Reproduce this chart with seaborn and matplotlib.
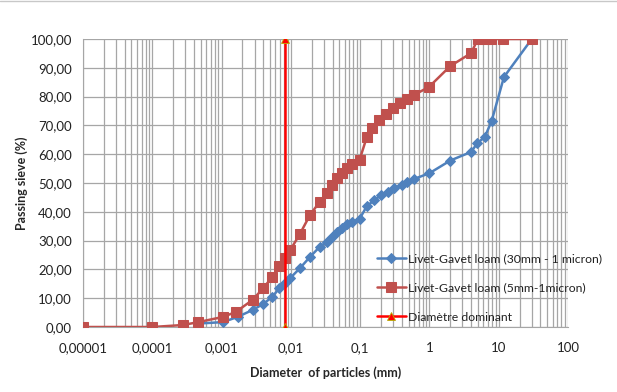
import numpy as np
import pandas as pd
import seaborn as sns
import matplotlib.pyplot as plt
from matplotlib.lines import Line2D
from matplotlib.ticker import FixedLocator, LogLocator, FuncFormatter

# series 1: Livet-Gavet loam (30mm - 1 micron)
d_coarse = [0.00046, 0.00105, 0.0017, 0.0028, 0.004, 0.0054, 0.0068, 0.0082, 0.0098,
            0.0135, 0.019, 0.026, 0.033, 0.039, 0.046, 0.054, 0.064, 0.077, 0.098,
            0.125, 0.16, 0.2, 0.25, 0.31, 0.4, 0.48, 0.6, 1.0, 2.0, 4.0, 4.9, 6.3,
            7.9, 11.9, 30]
p_coarse = [1.2, 1.7, 3.5, 5.9, 8.0, 10.5, 13.4, 15.2, 17.0,
            20.4, 24.4, 27.8, 29.6, 31.3, 33.0, 34.4, 35.8, 36.5, 37.5,
            42.0, 44.0, 45.8, 47.0, 48.3, 49.3, 50.3, 51.4, 53.4, 57.8, 60.8, 63.8, 66.0,
            71.5, 86.8, 100.0]

# series 2: Livet-Gavet loam (5mm-1micron)
d_fine = [0.00001, 0.0001, 0.00028, 0.00046, 0.00105, 0.0016, 0.0028, 0.004, 0.0054,
          0.0068, 0.0082, 0.0098, 0.0135, 0.019, 0.026, 0.033, 0.039, 0.046, 0.054,
          0.064, 0.077, 0.098, 0.125, 0.15, 0.19, 0.24, 0.30, 0.37, 0.47, 0.6,
          0.98, 2.0, 4.0, 5.0, 6.3, 7.8, 11.5, 30]
p_fine = [0.0, 0.0, 0.7, 1.7, 3.5, 5.2, 9.4, 13.5, 17.4,
          21.2, 24.0, 26.7, 32.3, 39.0, 43.4, 46.5, 49.3, 51.7, 53.5,
          55.2, 56.6, 58.0, 66.0, 69.0, 71.9, 74.0, 76.0, 77.8, 79.2, 80.6,
          83.3, 90.6, 95.1, 100.0, 100.0, 100.0, 100.0, 100.0]

# series 3: Diamètre dominant
d_dom = [0.0082, 0.0082]
p_dom = [0.0, 100.0]

labels = ["Livet-Gavet loam (30mm - 1 micron)", "Livet-Gavet loam (5mm-1micron)", "Diamètre dominant"]
x_ticks = [0.00001, 0.0001, 0.001, 0.01, 0.1, 1, 10, 100]
x_tick_labels = ["0,00001", "0,0001", "0,001", "0,01", "0,1", "1", "10", "100"]

sns.set_style("white")
plt.rcParams['font.family'] = ['Lato', 'DejaVu Sans']

fig = plt.figure(figsize=(6.17, 3.92), dpi=100)
ax = fig.add_axes([0.1345, 0.1658, 0.7861, 0.7347])

ax.set_xscale("log")
ax.xaxis.set_major_locator(FixedLocator(x_ticks))
ax.xaxis.set_minor_locator(LogLocator(base=10, subs=np.arange(2, 10), numticks=20))
ax.grid(True, which="both", axis="x", color="#a6a6a6", linewidth=0.9)
ax.grid(True, which="major", axis="y", color="#a6a6a6", linewidth=0.9)
ax.set_axisbelow(True)

df1 = pd.DataFrame({"d": d_coarse, "p": p_coarse})
df2 = pd.DataFrame({"d": d_fine, "p": p_fine})
df3 = pd.DataFrame({"d": d_dom, "p": p_dom})

sns.lineplot(data=df1, x="d", y="p", ax=ax, sort=False, estimator=None, color="#4f81bd",
             linewidth=1.8, marker="D", markersize=5, markeredgecolor="#4f81bd",
             label=labels[0], zorder=3)
sns.lineplot(data=df2, x="d", y="p", ax=ax, sort=False, estimator=None, color="#c0504d",
             linewidth=1.8, marker="s", markersize=7, markeredgecolor="#c0504d",
             label=labels[1], zorder=4)
sns.lineplot(data=df3, x="d", y="p", ax=ax, sort=False, estimator=None, color="#ff0000",
             linewidth=1.8, marker="^", markersize=6, markeredgecolor="#b8b000",
             markeredgewidth=0.6, label=labels[2], zorder=5)

ax.set_xlim(0.00001, 100)
ax.set_ylim(0, 100)
ax.set_yticks(np.arange(0, 101, 10))
ax.yaxis.set_major_formatter(FuncFormatter(lambda v, pos: f"{v:.2f}".replace(".", ",")))
ax.set_xticklabels(x_tick_labels)
ax.tick_params(axis="both", which="major", labelsize=9.5, colors="#222222", length=4,
               color="#a6a6a6", direction="out")
ax.tick_params(axis="x", which="minor", length=4, color="#a6a6a6", direction="out")
ax.tick_params(axis="x", pad=7)
ax.tick_params(axis="y", pad=4)

for side in ["top", "right"]:
    ax.spines[side].set_visible(False)
for side in ["left", "bottom"]:
    ax.spines[side].set_color("#a6a6a6")

ax.set_xlabel("Diameter  of particles (mm)", fontsize=9, fontweight="bold", labelpad=9)
ax.set_ylabel("Passing sieve (%)", fontsize=9, fontweight="bold", labelpad=2)

leg = ax.legend(loc="upper left", bbox_to_anchor=(0.583, 0.295), frameon=False,
                fontsize=8.8, labelspacing=1.5, handlelength=2.4, handletextpad=0.12)
for t in leg.get_texts():
    t.set_color("#222222")

fig.add_artist(Line2D([0, 1], [0.998, 0.998], transform=fig.transFigure, color="#c8c8c8", linewidth=1))

fig.savefig("out.png", dpi=100)
